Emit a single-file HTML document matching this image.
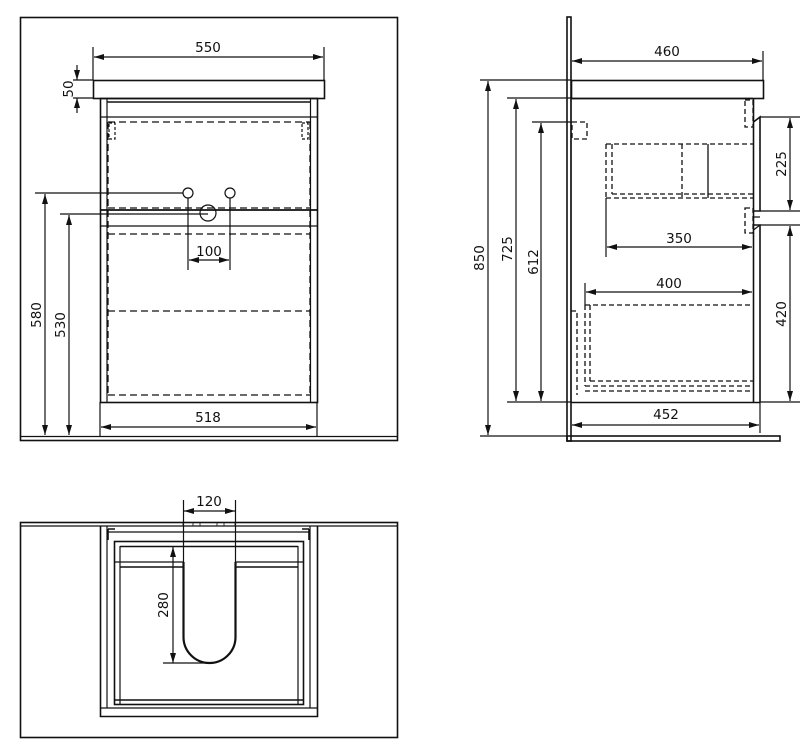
<!DOCTYPE html>
<html><head><meta charset="utf-8"><style>
html,body{margin:0;padding:0;background:#fff;}
svg{display:block;}
text{font-family:"DejaVu Sans","Liberation Sans",sans-serif;font-size:13.5px;fill:#111;}
</style></head><body>
<svg width="812" height="755" viewBox="0 0 812 755" xmlns="http://www.w3.org/2000/svg">
<defs>
<marker id="a" viewBox="0 0 10 6" refX="10" refY="3" markerWidth="10" markerHeight="6" orient="auto-start-reverse" markerUnits="userSpaceOnUse"><path d="M0,0 L10,3 L0,6 z" fill="#111"/></marker>
</defs>
<g stroke="#111" fill="none" stroke-width="1.2">
<!-- FRONT VIEW -->
<rect x="20.5" y="17.5" width="377" height="423" stroke-width="1.6"/>
<line x1="20" y1="436.5" x2="397" y2="436.5"/>
<rect x="93.5" y="80.5" width="231" height="18" stroke-width="1.6"/>
<rect x="100.5" y="98.5" width="217" height="304" stroke-width="1.6"/>
<line x1="107" y1="99" x2="107" y2="402"/>
<line x1="310.5" y1="99" x2="310.5" y2="402"/>
<line x1="107" y1="102" x2="310" y2="102" stroke-width="1.6"/>
<line x1="100" y1="117" x2="317" y2="117"/>
<line x1="100" y1="210" x2="317" y2="210" stroke-width="1.8"/>
<line x1="100" y1="226" x2="317" y2="226"/>
<g stroke-dasharray="7,4" stroke-width="1.3">
<line x1="108" y1="122" x2="310" y2="122"/>
<line x1="108" y1="208" x2="310" y2="208"/>
<line x1="108" y1="234" x2="310" y2="234"/>
<line x1="108" y1="311" x2="310" y2="311"/>
<line x1="108" y1="395" x2="310" y2="395"/>
<line x1="108" y1="122" x2="108" y2="395"/>
<line x1="310" y1="122" x2="310" y2="395"/>
</g>
<rect x="109" y="123" width="6" height="16" stroke-dasharray="3,2"/>
<rect x="302" y="123" width="6" height="16" stroke-dasharray="3,2"/>
<circle cx="188" cy="193" r="5"/>
<circle cx="230" cy="193" r="5"/>
<circle cx="208" cy="213" r="8"/>
<!-- dims front -->
<line x1="93" y1="47" x2="93" y2="80"/><line x1="324" y1="47" x2="324" y2="80"/>
<line x1="94" y1="57" x2="323" y2="57" marker-start="url(#a)" marker-end="url(#a)"/>
<line x1="73" y1="80" x2="93" y2="80"/><line x1="73" y1="98" x2="93" y2="98"/>
<line x1="77" y1="65" x2="77" y2="80" marker-end="url(#a)"/>
<line x1="77" y1="113" x2="77" y2="98" marker-end="url(#a)"/>
<line x1="35" y1="193" x2="183" y2="193"/>
<line x1="45" y1="194" x2="45" y2="435" marker-start="url(#a)" marker-end="url(#a)"/>
<line x1="60" y1="214" x2="208" y2="214"/>
<line x1="69" y1="215" x2="69" y2="435" marker-start="url(#a)" marker-end="url(#a)"/>
<line x1="188" y1="198" x2="188" y2="270"/><line x1="230" y1="198" x2="230" y2="270"/>
<line x1="189" y1="260" x2="229" y2="260" marker-start="url(#a)" marker-end="url(#a)"/>
<line x1="100" y1="402" x2="100" y2="436"/><line x1="317" y1="402" x2="317" y2="436"/>
<line x1="101" y1="427" x2="316" y2="427" marker-start="url(#a)" marker-end="url(#a)"/>

<!-- SIDE VIEW -->
<rect x="567" y="17" width="4" height="424" stroke-width="1.6"/>
<rect x="567" y="436" width="213" height="5" stroke-width="1.6"/>
<rect x="571.5" y="80.5" width="192" height="18" stroke-width="1.6"/>
<line x1="571" y1="98.5" x2="753" y2="98.5" stroke-width="1.6"/>
<line x1="571" y1="402.5" x2="760" y2="402.5" stroke-width="1.6"/>
<line x1="753.5" y1="98" x2="753.5" y2="402" stroke-width="1.6"/>
<path d="M753.5,122 L760,117 L760,211 L753.5,211 M753.5,225 L760,225 L760,402" stroke-width="1.6"/>
<path d="M760,117 H800 M760,211 H800 M760,225 H800 M753,217 H760"/>
<path d="M753.5,230 L760,225"/>
<g stroke-dasharray="5,3" stroke-width="1.3">
<rect x="745" y="100" width="8" height="27"/>
<rect x="745" y="208" width="8" height="25"/>
<line x1="606" y1="144" x2="753" y2="144"/>
<line x1="606" y1="198" x2="753" y2="198"/>
<line x1="612" y1="194" x2="753" y2="194"/>
<line x1="606" y1="144" x2="606" y2="198"/>
<line x1="612" y1="144" x2="612" y2="194"/>
<line x1="682" y1="144" x2="682" y2="198"/>
<line x1="708" y1="144" x2="708" y2="198" stroke-dasharray="none"/>
<line x1="585" y1="305" x2="753" y2="305"/>
<line x1="585" y1="305" x2="585" y2="386"/>
<line x1="590" y1="305" x2="590" y2="381"/>
<line x1="590" y1="381" x2="753" y2="381"/>
<line x1="585" y1="386" x2="753" y2="386"/>
<line x1="585" y1="391" x2="753" y2="391"/>
<path d="M571,311 H577 V395"/>
<rect x="572" y="122" width="15" height="17"/>
</g>
<line x1="571" y1="98" x2="571" y2="402"/>
<!-- dims side -->
<line x1="763" y1="51" x2="763" y2="80"/>
<line x1="572" y1="61" x2="762" y2="61" marker-start="url(#a)" marker-end="url(#a)"/>
<line x1="480" y1="80" x2="571" y2="80"/>
<line x1="488" y1="81" x2="488" y2="435" marker-start="url(#a)" marker-end="url(#a)"/>
<line x1="480" y1="436" x2="567" y2="436"/>
<line x1="507" y1="98" x2="571" y2="98"/>
<line x1="516" y1="99" x2="516" y2="401" marker-start="url(#a)" marker-end="url(#a)"/>
<line x1="532" y1="122" x2="572" y2="122"/>
<line x1="541" y1="123" x2="541" y2="401" marker-start="url(#a)" marker-end="url(#a)"/>
<line x1="507" y1="402" x2="571" y2="402"/>
<line x1="760" y1="402" x2="800" y2="402"/>
<line x1="790" y1="118" x2="790" y2="210" marker-start="url(#a)" marker-end="url(#a)"/>
<line x1="790" y1="226" x2="790" y2="401" marker-start="url(#a)" marker-end="url(#a)"/>
<line x1="606" y1="198" x2="606" y2="257"/>
<line x1="607" y1="247" x2="752" y2="247" marker-start="url(#a)" marker-end="url(#a)"/>
<line x1="585" y1="283" x2="585" y2="305"/>
<line x1="586" y1="292" x2="752" y2="292" marker-start="url(#a)" marker-end="url(#a)"/>
<line x1="760" y1="402" x2="760" y2="433"/>
<line x1="572" y1="425" x2="759" y2="425" marker-start="url(#a)" marker-end="url(#a)"/>

<!-- BOTTOM VIEW -->
<rect x="20.5" y="522.5" width="377" height="215" stroke-width="1.6"/>
<line x1="20" y1="526" x2="397" y2="526"/>
<path d="M100.5,526 V716.5 H317.5 V526" stroke-width="1.6"/>
<line x1="100" y1="708" x2="317" y2="708"/>
<line x1="107" y1="526" x2="107" y2="708"/>
<line x1="310" y1="526" x2="310" y2="708"/>
<path d="M108,529 H115 M302,529 H309 M108,529 V540 M309,529 V540" stroke-width="1.6"/>
<line x1="108" y1="532" x2="309" y2="532"/>
<rect x="114.5" y="541.5" width="189" height="163" stroke-width="1.6"/>
<line x1="120" y1="546" x2="120" y2="704"/>
<line x1="298" y1="546" x2="298" y2="704"/>
<line x1="120" y1="546.5" x2="298" y2="546.5" stroke-width="1.6"/>
<line x1="114" y1="562" x2="184" y2="562"/><line x1="235" y1="562" x2="303" y2="562"/>
<line x1="120" y1="567" x2="184" y2="567" stroke-width="1.6"/><line x1="235" y1="567" x2="298" y2="567" stroke-width="1.6"/>
<line x1="114" y1="700" x2="303" y2="700" stroke-width="1.6"/>
<path d="M183.5,562 V637 A26,26 0 0 0 235.5,637 V562" stroke-width="2.2"/>
<path d="M183,526 v-3 M193,526 v-3 M200,526 v-3 M217,526 v-3 M224,526 v-3 M235,526 v-3" stroke-width="0.8"/>
<line x1="183.5" y1="500" x2="183.5" y2="562"/>
<line x1="235.5" y1="500" x2="235.5" y2="562"/>
<line x1="184" y1="511" x2="235" y2="511" marker-start="url(#a)" marker-end="url(#a)"/>
<line x1="173" y1="547" x2="173" y2="663" marker-start="url(#a)" marker-end="url(#a)"/>
<line x1="163" y1="663" x2="209" y2="663"/>
</g>
<g>
<text x="208" y="52" text-anchor="middle">550</text>
<text transform="translate(73,89) rotate(-90)" text-anchor="middle">50</text>
<text transform="translate(41,315) rotate(-90)" text-anchor="middle">580</text>
<text transform="translate(65,325) rotate(-90)" text-anchor="middle">530</text>
<text x="209" y="256" text-anchor="middle">100</text>
<text x="208" y="422" text-anchor="middle">518</text>
<text x="667" y="56" text-anchor="middle">460</text>
<text transform="translate(484,258) rotate(-90)" text-anchor="middle">850</text>
<text transform="translate(512,249) rotate(-90)" text-anchor="middle">725</text>
<text transform="translate(538,262) rotate(-90)" text-anchor="middle">612</text>
<text transform="translate(786,164) rotate(-90)" text-anchor="middle">225</text>
<text transform="translate(786,314) rotate(-90)" text-anchor="middle">420</text>
<text x="679" y="243" text-anchor="middle">350</text>
<text x="669" y="288" text-anchor="middle">400</text>
<text x="666" y="419" text-anchor="middle">452</text>
<text x="209" y="506" text-anchor="middle">120</text>
<text transform="translate(168,605) rotate(-90)" text-anchor="middle">280</text>
</g>
</svg>
</body></html>
